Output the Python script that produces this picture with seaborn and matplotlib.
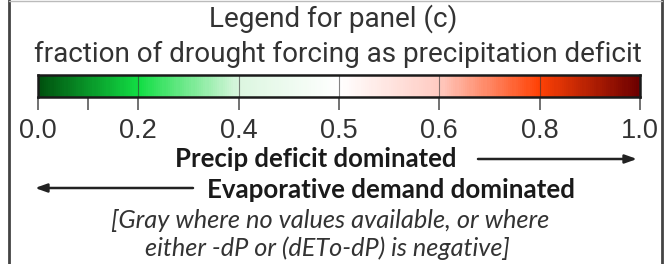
import numpy as np
import matplotlib
matplotlib.use("Agg")
import matplotlib.pyplot as plt
from matplotlib.colors import LinearSegmentedColormap
from matplotlib.lines import Line2D
import seaborn as sns

# --- data ---
tick_values = [0.0, 0.2, 0.4, 0.5, 0.6, 0.8, 1.0]
tick_labels = ["0.0", "0.2", "0.4", "0.5", "0.6", "0.8", "1.0"]
minor_values = [0.1]
anchor_colors = ["#00520f", "#12de44", "#dcf6e0", "#ffffff", "#ffcbc2", "#ff4206", "#6e0000"]

title1 = "Legend for panel (c)"
title2 = "fraction of drought forcing as precipitation deficit"
arrow_text1 = "Precip deficit dominated"
arrow_text2 = "Evaporative demand dominated"
note1 = "[Gray where no values available, or where"
note2 = "either -dP or (dETo-dP) is negative]"

sns.set_style("white")
plt.rcParams["font.family"] = ["Liberation Sans", "DejaVu Sans"]

W, H = 665, 264
fig = plt.figure(figsize=(W / 100, H / 100), dpi=100)

# overlay axes in pixel coords
ov = fig.add_axes([0, 0, 1, 1])
ov.set_xlim(0, W)
ov.set_ylim(H, 0)
ov.axis("off")

# colour bar (equal spaced bins between the tick values)
n_bins = len(tick_values) - 1
cmap = LinearSegmentedColormap.from_list(
    "frac", list(zip(np.linspace(0, 1, len(anchor_colors)), anchor_colors))
)
ncell = 300
grad = np.linspace(0, 1, ncell)[None, :]
x0, x1, y0, y1 = 38, 640, 75, 97
cax = fig.add_axes([x0 / W, 1 - y1 / H, (x1 - x0) / W, (y1 - y0) / H])
sns.heatmap(grad, cmap=cmap, vmin=0, vmax=1, cbar=False,
            xticklabels=False, yticklabels=False, ax=cax)
for s in cax.spines.values():
    s.set_visible(True)
    s.set_color("#1a1a1a")
    s.set_linewidth(1.8)

pos = [ncell * i / n_bins for i in range(len(tick_values))]
for p in pos[1:-1]:
    cax.axvline(p, color="#333333", lw=0.8, alpha=0.6)
minor_pos = [ncell * 0.5 / n_bins for _ in minor_values]
cax.set_xticks(pos)
cax.set_xticklabels(tick_labels, fontsize=19.5, color="#333333")
cax.set_xticks(minor_pos, minor=True)
cax.tick_params(axis="x", which="both", bottom=True, length=9, width=1.3,
                color="#666666", pad=6, direction="out")
cax.set_yticks([])

# texts, fitted to widths measured on the reference
fig.canvas.draw()
renderer = fig.canvas.get_renderer()


def fit_text(x, y, s, width, **kw):
    t = ov.text(x, y, s, ha="center", va="center", **kw)
    w = t.get_window_extent(renderer).width
    t.set_fontsize(t.get_fontsize() * width / w)
    return t


tf = ["Roboto", "Liberation Sans"]
t1 = fit_text(333, 19, title1, 274, fontsize=20, family=tf, color="#333333")
t2 = fit_text(338, 54, title2, 567, fontsize=20, family=tf, color="#333333")
common = 0.4 * t1.get_fontsize() + 0.6 * t2.get_fontsize()
t1.set_fontsize(common)
t2.set_fontsize(common)

fit_text(316, 159, arrow_text1, 282, fontsize=16, fontweight="bold",
         family=["Lato", "DejaVu Sans"], color="#1a1a1a")
fit_text(391, 190, arrow_text2, 367, fontsize=16, fontweight="bold",
         family=["Lato", "DejaVu Sans"], color="#1a1a1a")
fit_text(330, 221, note1, 440, fontsize=15, style="italic",
         family=["Lato", "DejaVu Sans"], color="#333333")
fit_text(327, 248, note2, 365, fontsize=15, style="italic",
         family=["Lato", "DejaVu Sans"], color="#333333")

# arrows
ap = dict(arrowstyle="-|>,head_length=0.7,head_width=0.25", color="#222222", lw=1.8,
          shrinkA=0, shrinkB=0)
ov.annotate("", xy=(637, 159), xytext=(478, 159), arrowprops=ap)
ov.annotate("", xy=(35, 188), xytext=(193, 188), arrowprops=ap)

# frame
ov.add_line(Line2D([9, 9], [0, H], color="#444444", lw=2))
ov.add_line(Line2D([662, 662], [0, H], color="#444444", lw=2))
ov.add_line(Line2D([9, 662], [1, 1], color="#bbbbbb", lw=1))

fig.savefig("out.png", dpi=100)
